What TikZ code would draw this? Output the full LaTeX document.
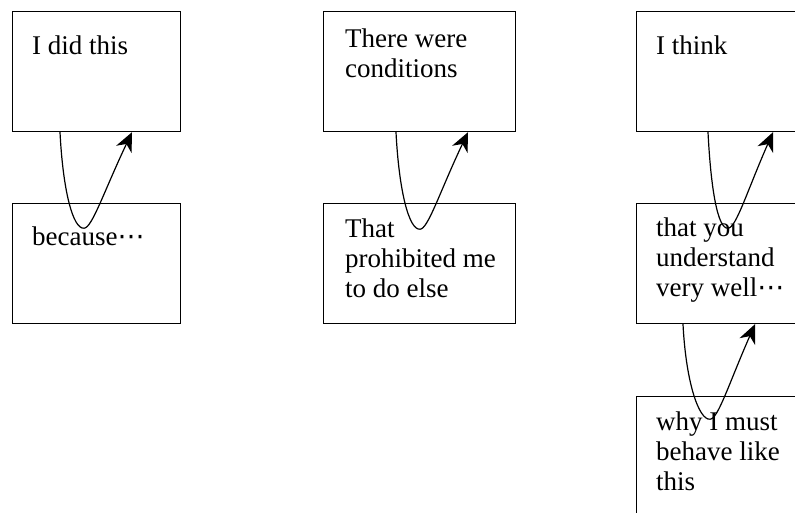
\documentclass[tikz,border=0pt]{standalone}
\usepackage{fontspec}
\setmainfont{Liberation Serif}
\newfontfamily\dotsfont{DejaVu Sans}
\usetikzlibrary{arrows.meta}

\begin{document}
\begin{tikzpicture}[x=1pt, y=-1pt,
    panel/.style ={rectangle, draw, line width=1.2pt, anchor=north west,
      minimum width=168pt, minimum height=120pt, inner sep=0pt},
    words/.style ={anchor=base west, align=left, inner sep=0pt,
      font=\fontsize{27}{30}\selectfont},
    backarrow/.style ={line width=1.2pt,
      -{Stealth[length=19pt,width=17pt,inset=6pt]}}]
   \useasboundingbox (0,0) rectangle (795,513);
   \clip (0,0) rectangle (795,513);
   \node[panel] (A) at (12,11)  {};
   \node[panel] (B) at (12,203) {};
   \node[panel, minimum width=192pt] (C) at (323,11)  {};
   \node[panel, minimum width=192pt] (D) at (323,203) {};
   \node[panel, minimum width=192pt] (E) at (636,11)  {};
   \node[panel, minimum width=192pt] (F) at (636,203) {};
   \node[panel, minimum width=192pt] (G) at (636,396) {};
%   base of a text node is its last line
   \node[words] (a) at (32,55)   {I did this};
   \node[words] (b) at (32,245)  {because{\dotsfont ⋯}};
   \node[words] (c) at (345,78)  {There were\\conditions};
   \node[words] (d) at (345,297) {That\\prohibited me\\to do else};
   \node[words] (e) at (656,55)  {I think};
   \node[words] (f) at (656,296) {that you\\understand\\very well{\dotsfont ⋯}};
   \node[words] (g) at (656,490) {why I must\\behave like\\this};
%   the dips go into the lower box and come back up
   \draw[backarrow] ([xshift=48pt]A.south west) .. controls +(3,59) and +(-11,1)
      .. ([shift={(72,96)}]A.south west) .. controls +(8,0) and +(-28,59)
      .. ([xshift=120pt]A.south west);
   \draw[backarrow] ([xshift=73pt]C.south west) .. controls +(3,59) and +(-11,1)
      .. ([shift={(97,97)}]C.south west) .. controls +(8,0) and +(-28,59)
      .. ([xshift=145pt]C.south west);
   \draw[backarrow] ([xshift=72pt]E.south west) .. controls +(3,59) and +(-10,1)
      .. ([shift={(92,96)}]E.south west) .. controls +(8,0) and +(-26,59)
      .. ([xshift=137pt]E.south west);
   \draw[backarrow] ([xshift=47pt]F.south west) .. controls +(3,59) and +(-11,1)
      .. ([shift={(74,95)}]F.south west) .. controls +(8,0) and +(-26,59)
      .. ([xshift=119pt]F.south west);
 \end{tikzpicture}
\end{document}
